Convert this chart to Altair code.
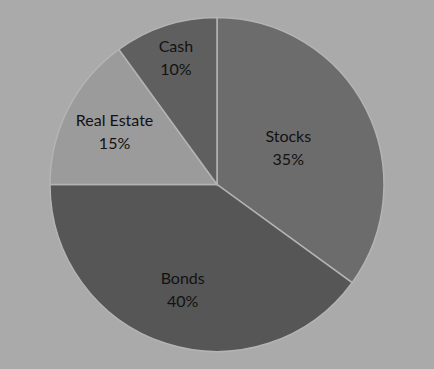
import altair as alt
import pandas as pd

categories = ["Stocks", "Bonds", "Real Estate", "Cash"]
shares = [35, 40, 15, 10]
colors = ["#6c6c6c", "#565656", "#9b9b9b", "#5f5f5f"]

# label placement (layout only, pixels from centre)
label_radius = {"Stocks": 80, "Bonds": 111, "Real Estate": 115, "Cash": 133}

df = pd.DataFrame({
    "cat": categories,
    "share": shares,
    "order": list(range(len(categories))),
})
df["label"] = df["cat"] + "\n" + df["share"].astype(str) + "%"
df["lr"] = df["cat"].map(label_radius)

total = sum(shares)

pie = alt.Chart(df).mark_arc(radius=167, stroke="#b4b4b4", strokeWidth=1.5).encode(
    theta=alt.Theta("share:Q", stack=True),
    order=alt.Order("order:Q"),
    color=alt.Color("cat:N", scale=alt.Scale(domain=categories, range=colors), legend=None),
)

text = alt.Chart(df).transform_stack(
    stack="share", groupby=[], as_=["s0", "s1"], sort=[alt.SortField("order")]
).transform_calculate(
    mid="(datum.s0 + datum.s1) / 2"
).mark_text(font="Lato", fontSize=16, lineBreak="\n", dy=-11.5,
            lineHeight=23, color="#121212").encode(
    theta=alt.Theta("mid:Q", stack=None, scale=alt.Scale(domain=[0, total])),
    radius=alt.Radius("lr:Q", scale=None, stack=None),
    text="label:N",
)

chart = alt.layer(pie, text).resolve_scale(theta="independent").properties(
    width=434, height=369, padding=0, autosize="none", background="#aaaaaa"
).configure_view(stroke=None)

chart.save("out.html", embed_options={"renderer": "svg", "actions": False})
